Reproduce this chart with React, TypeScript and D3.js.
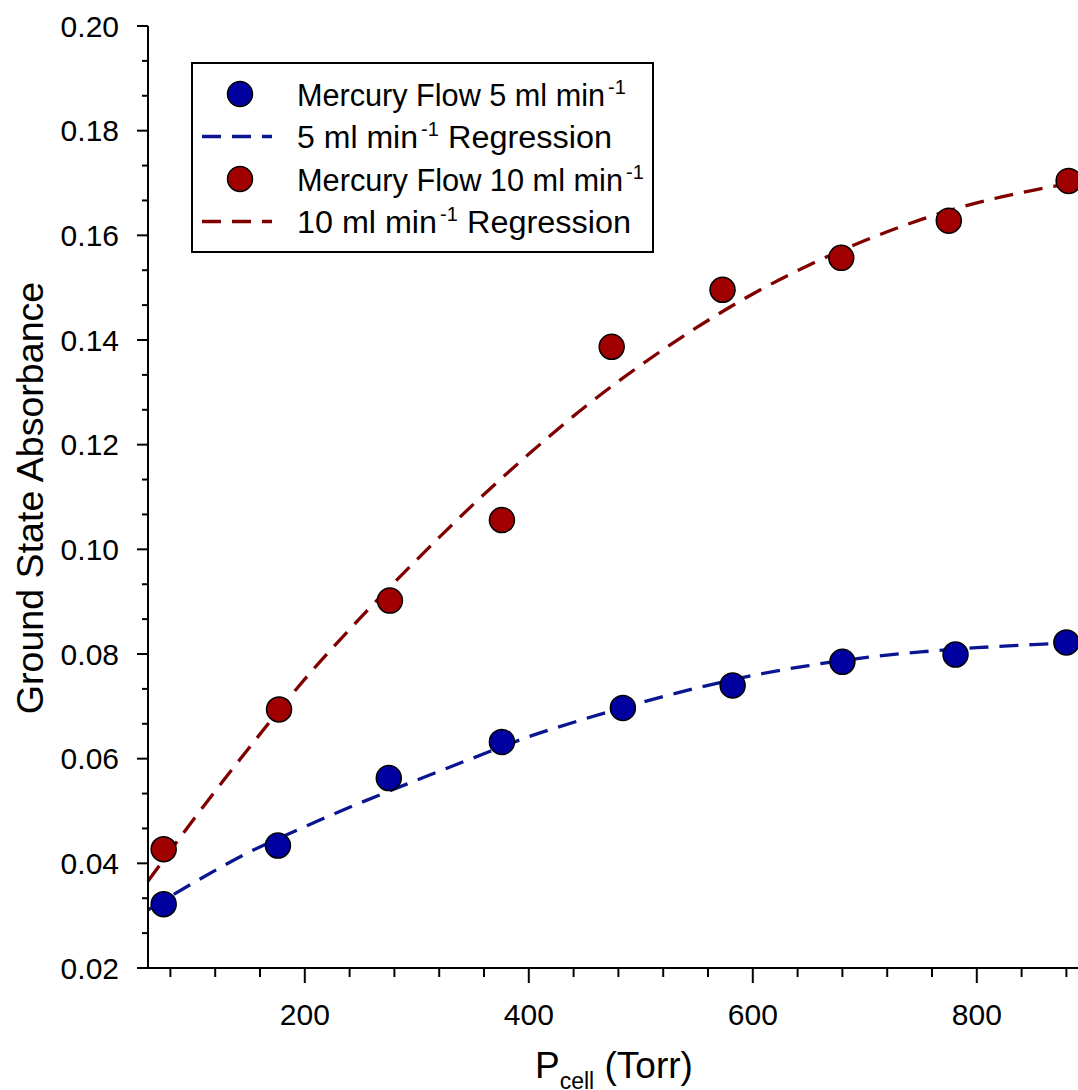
import React from "react";
import * as d3 from "d3";

// ---- data ----
const blueX = [74, 176, 275, 376, 484, 582, 680, 781, 880];
const blueY = [0.0322, 0.0434, 0.0563, 0.0632, 0.0697, 0.074, 0.0785, 0.0799, 0.0822];
const redX = [74, 177, 276, 376, 474, 573, 679, 775, 882];
const redY = [0.0427, 0.0694, 0.0902, 0.1056, 0.1387, 0.1496, 0.1557, 0.1628, 0.1704];

const fitX = [60, 100, 150, 200, 250, 300, 350, 400, 450, 500, 550, 600, 650, 700, 750, 800, 850, 892];
const blueFitY = [0.0311, 0.0362, 0.0421, 0.047, 0.0516, 0.0559, 0.0601, 0.0642, 0.0676, 0.0707, 0.0735, 0.0759, 0.0778, 0.0793, 0.0804, 0.0812, 0.0818, 0.0822];
const redFitY = [0.0366, 0.0482, 0.062, 0.0752, 0.087, 0.098, 0.1085, 0.1182, 0.1272, 0.1352, 0.1424, 0.1488, 0.1543, 0.159, 0.163, 0.1662, 0.1686, 0.1702];

const xMajorTicks = [200, 400, 600, 800];
const yMajorTicks = [0.02, 0.04, 0.06, 0.08, 0.1, 0.12, 0.14, 0.16, 0.18, 0.2];

const xTitle = "P";
const xTitleSub = "cell";
const xTitleRest = " (Torr)";
const yTitle = "Ground State Absorbance";

const legendKinds = ["dot", "line", "dot", "line"];
const legendSeries = ["blue", "blue", "red", "red"];
const legendPre = ["Mercury Flow 5 ml min", "5 ml min", "Mercury Flow 10 ml min", "10 ml min"];
const legendSup = "-1";
const legendPost = ["", "Regression", "", "Regression"];

const COLORS: Record<string, { fill: string; line: string }> = {
  blue: { fill: "#0000a0", line: "#0a1690" },
  red: { fill: "#a00000", line: "#800000" },
};

const FONT = "Arial, 'Liberation Sans', Helvetica, sans-serif";

export default function App() {
  const W = 1078;
  const H = 1090;
  const left = 148;
  const bottom = 968;
  const top = 26;

  const x = d3.scaleLinear().domain([60, 900]).range([left, left + 840 * 1.12]);
  const y = d3.scaleLinear().domain([0.02, 0.2]).range([bottom, top]);

  const xMinor = d3.range(80, 900, 40).filter((v) => v % 200 !== 0);
  const yMinor = d3
    .range(0, 28)
    .map((i) => 0.02 + (i * 0.02) / 3)
    .filter((v, i) => i % 3 !== 0 && v <= 0.2001);

  const line = d3
    .line<[number, number]>()
    .x((d) => x(d[0]))
    .y((d) => y(d[1]))
    .curve(d3.curveMonotoneX);

  const blueFit = line(fitX.map((v, i) => [v, blueFitY[i]]) as [number, number][]) || "";
  const redFit = line(fitX.map((v, i) => [v, redFitY[i]]) as [number, number][]) || "";

  // legend layout
  const legX = 192;
  const legY = 63;
  const legW = 461;
  const legH = 189;
  const textX = 297;
  const preW = [308, 121, 326, 140];
  const postX = [0, 448, 0, 467];
  const postW = 164;

  const dash = "19,11";

  return (
    <svg
      width={W}
      height={H}
      style={{ position: "absolute", left: 0, top: 0, background: "#fff" }}
      fontFamily={FONT}
    >
      <rect x={0} y={0} width={W} height={H} fill="#fff" />

      {/* regression lines */}
      <path d={blueFit} fill="none" stroke={COLORS.blue.line} strokeWidth={3.3} strokeDasharray={dash} />
      <path d={redFit} fill="none" stroke={COLORS.red.line} strokeWidth={3.3} strokeDasharray={dash} />

      {/* markers */}
      {blueX.map((v, i) => (
        <circle key={"b" + i} cx={x(v)} cy={y(blueY[i])} r={12.5} fill={COLORS.blue.fill} stroke="#000" strokeWidth={1.5} />
      ))}
      {redX.map((v, i) => (
        <circle key={"r" + i} cx={x(v)} cy={y(redY[i])} r={12.5} fill={COLORS.red.fill} stroke="#000" strokeWidth={1.5} />
      ))}

      {/* axes */}
      <line x1={left} x2={left} y1={top} y2={bottom} stroke="#000" strokeWidth={2} />
      <line x1={left} x2={W} y1={bottom} y2={bottom} stroke="#000" strokeWidth={2} />

      {xMajorTicks.map((t) => (
        <g key={"xt" + t}>
          <line x1={x(t)} x2={x(t)} y1={bottom} y2={bottom + 15} stroke="#000" strokeWidth={2} />
          <text x={x(t)} y={1025} fontSize={30} textAnchor="middle" fill="#000">
            {t}
          </text>
        </g>
      ))}
      {xMinor.map((t) => (
        <line key={"xm" + t} x1={x(t)} x2={x(t)} y1={bottom} y2={bottom + 9} stroke="#000" strokeWidth={2} />
      ))}

      {yMajorTicks.map((t) => (
        <g key={"yt" + t}>
          <line x1={left - 11} x2={left} y1={y(t)} y2={y(t)} stroke="#000" strokeWidth={2} />
          <text x={119} y={y(t) + 10.5} fontSize={30} textAnchor="end" fill="#000">
            {t.toFixed(2)}
          </text>
        </g>
      ))}
      {yMinor.map((t, i) => (
        <line key={"ym" + i} x1={left - 6} x2={left} y1={y(t)} y2={y(t)} stroke="#000" strokeWidth={2} />
      ))}

      {/* axis titles */}
      <text x={535} y={1078} fontSize={37} fill="#000">
        {xTitle}
        <tspan fontSize={23} dy={11}>{xTitleSub}</tspan>
        <tspan dy={-11}>{xTitleRest}</tspan>
      </text>
      <text transform={`translate(43, 498) rotate(-90)`} fontSize={37.6} textAnchor="middle" fill="#000">
        {yTitle}
      </text>

      {/* legend */}
      <rect x={legX} y={legY} width={legW} height={legH} fill="#fff" stroke="#000" strokeWidth={2} />
      {legendKinds.map((kind, i) => {
        const cy = 94 + i * 42.5;
        const base = cy + 11.5;
        const c = COLORS[legendSeries[i]];
        return (
          <g key={"lg" + i}>
            {kind === "dot" ? (
              <circle cx={240} cy={cy} r={12.5} fill={c.fill} stroke="#000" strokeWidth={1.5} />
            ) : (
              <line x1={202} x2={272} y1={cy} y2={cy} stroke={c.line} strokeWidth={3.3} strokeDasharray={dash} />
            )}
            <text
              x={textX}
              y={base}
              fontSize={31}
              fill="#000"
              textLength={preW[i]}
              lengthAdjust="spacingAndGlyphs"
            >
              {legendPre[i]}
            </text>
            <text x={textX + preW[i] + 3} y={base - 12} fontSize={20} fill="#000">
              {legendSup}
            </text>
            {legendPost[i] ? (
              <text
                x={postX[i]}
                y={base}
                fontSize={31}
                fill="#000"
                textLength={postW}
                lengthAdjust="spacingAndGlyphs"
              >
                {legendPost[i]}
              </text>
            ) : null}
          </g>
        );
      })}
    </svg>
  );
}
